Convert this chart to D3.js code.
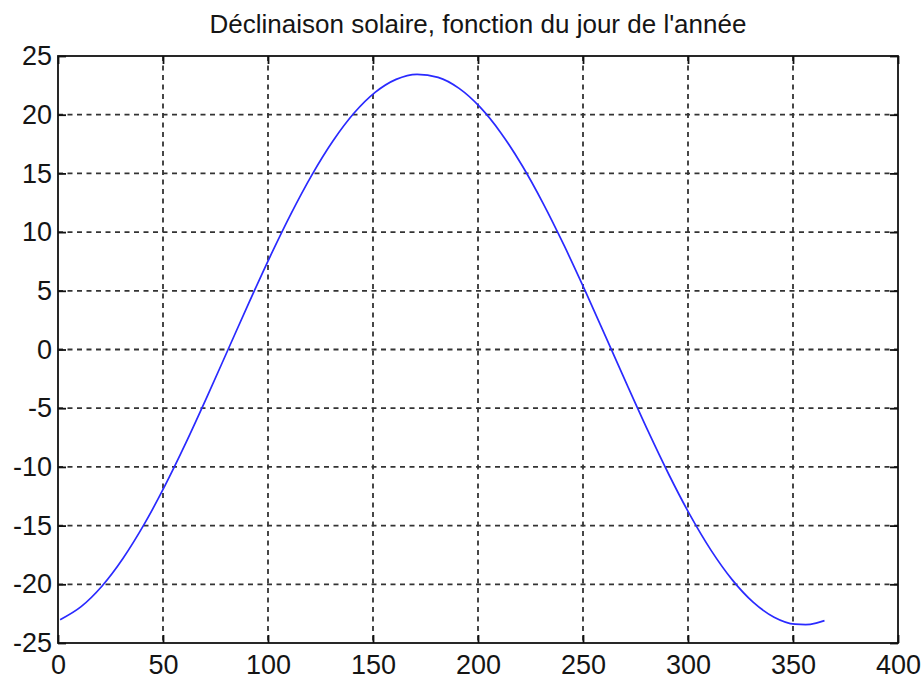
<!DOCTYPE html>
<html>
<head>
<meta charset="utf-8">
<script src="https://cdn.jsdelivr.net/npm/d3@7"></script>
<style>
  body { margin: 0; background: #fff; }
  svg text { font-family: "Liberation Sans", Arial, sans-serif; fill: #151515; }
</style>
</head>
<body>
<div id="chart"></div>
<script>
// jour de l'année (x) et déclinaison en degrés (y)
var jours = [1, 11, 21, 31, 41, 51, 61, 71, 81, 91, 101, 111, 121, 131, 141, 151, 161, 171,
             181, 191, 201, 211, 221, 231, 241, 251, 261, 271, 281, 291, 301, 311, 321, 331,
             341, 351, 356, 361, 365];
var declinaison = [-23.01, -21.90, -20.14, -17.78, -14.90, -11.58, -7.92, -4.02, 0.00, 4.02,
                   7.92, 11.58, 14.90, 17.78, 20.14, 21.90, 23.01, 23.44,
                   23.18, 22.24, 20.64, 18.43, 15.67, 12.45, 8.86, 5.01, 1.01, -3.02, -6.96,
                   -10.69, -14.11, -17.11, -19.60, -21.52, -22.80, -23.40, -23.44, -23.31, -23.09];
var xTicks = [0, 50, 100, 150, 200, 250, 300, 350, 400];
var yTicks = [-25, -20, -15, -10, -5, 0, 5, 10, 15, 20, 25];
var titre = "Déclinaison solaire, fonction du jour de l'année";

var width = 924,
    height = 679,
    margin = {top: 56, right: 26, bottom: 36, left: 58};
var w = width - margin.left - margin.right,
    h = height - margin.top - margin.bottom;

var svg = d3.select("#chart")
    .append("svg")
    .attr("width", width)
    .attr("height", height);

var g = svg.append("g")
    .attr("transform", "translate(" + margin.left + "," + margin.top + ")");

var x = d3.scaleLinear().domain([0, 400]).range([0, w]);
var y = d3.scaleLinear().domain([-25, 25]).range([h, 0]);

// grille pointillée
g.append("g").selectAll("line")
    .data(xTicks.slice(1, -1))
    .enter().append("line")
    .attr("x1", d => x(d)).attr("x2", d => x(d))
    .attr("y1", 0).attr("y2", h)
    .attr("stroke", "#333").attr("stroke-width", 1.8)
    .attr("stroke-dasharray", "5,4.5");

g.append("g").selectAll("line")
    .data(yTicks.slice(1, -1))
    .enter().append("line")
    .attr("y1", d => y(d)).attr("y2", d => y(d))
    .attr("x1", 0).attr("x2", w)
    .attr("stroke", "#333").attr("stroke-width", 1.8)
    .attr("stroke-dasharray", "5,4.5");

// axes (ticks vers l'intérieur, style matlab)
var fmt = d => String(d);  // tiret simple comme dans matlab
function styleAxis(sel) {
    sel.select(".domain").remove();
    sel.selectAll(".tick line").attr("stroke", "#111").attr("stroke-width", 1.8);
    sel.selectAll(".tick text").style("font-size", "27px");
}

g.append("g")
    .attr("transform", "translate(0," + h + ")")
    .call(d3.axisBottom(x).tickValues(xTicks).tickSize(-8).tickPadding(12).tickFormat(fmt))
    .call(styleAxis);

g.append("g")
    .call(d3.axisTop(x).tickValues(xTicks).tickSize(-8).tickFormat(""))
    .call(styleAxis);

g.append("g")
    .call(d3.axisLeft(y).tickValues(yTicks).tickSize(-8).tickPadding(6).tickFormat(fmt))
    .call(styleAxis);

g.append("g")
    .attr("transform", "translate(" + w + ",0)")
    .call(d3.axisRight(y).tickValues(yTicks).tickSize(-8).tickFormat(""))
    .call(styleAxis);

// cadre
g.append("rect")
    .attr("width", w).attr("height", h)
    .attr("fill", "none")
    .attr("stroke", "#111").attr("stroke-width", 1.8);

// courbe
var points = jours.map((d, i) => [d, declinaison[i]]);
g.append("path")
    .datum(points)
    .attr("fill", "none")
    .attr("stroke", "#2a2aff")
    .attr("stroke-width", 1.7)
    .attr("d", d3.line().x(d => x(d[0])).y(d => y(d[1])).curve(d3.curveMonotoneX));

// titre
svg.append("text")
    .attr("x", margin.left + w / 2)
    .attr("y", 33)
    .attr("text-anchor", "middle")
    .style("font-size", "26px")
    .text(titre);
</script>
</body>
</html>
